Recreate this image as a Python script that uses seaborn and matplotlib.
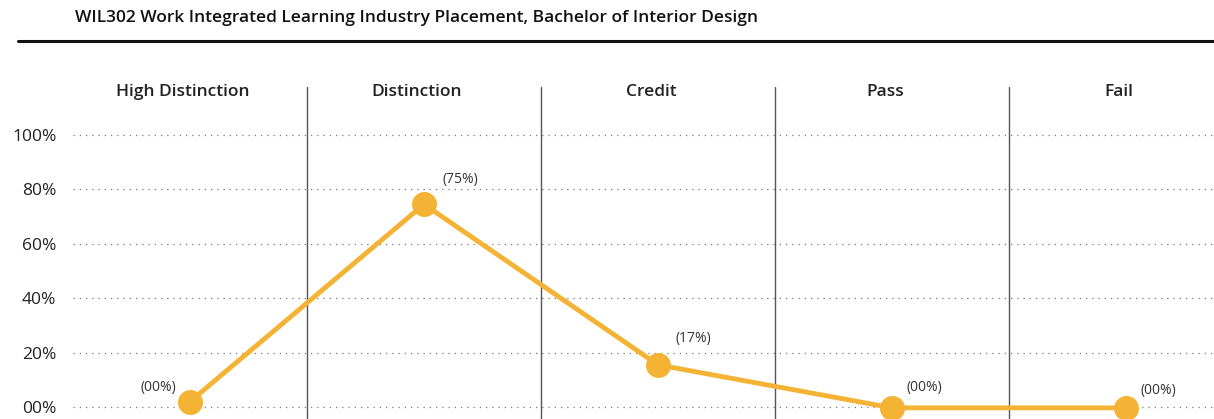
import numpy as np
import pandas as pd
import matplotlib
matplotlib.use("Agg")
import matplotlib.pyplot as plt
import seaborn as sns

# data
grades = ["High Distinction", "Distinction", "Credit", "Pass", "Fail"]
share = [2, 74.5, 15.5, -0.3, -0.3]
point_labels = ["(00%)", "(75%)", "(17%)", "(00%)", "(00%)"]
yticks = [0, 20, 40, 60, 80, 100]
ytick_labels = ["00%", "20%", "40%", "60%", "80%", "100%"]

title = "WIL302 Work Integrated Learning Industry Placement, Bachelor of Interior Design"
line_color = "#F5B335"

sns.set_theme(style="white")
plt.rcParams["font.family"] = ["Open Sans", "DejaVu Sans"]

df = pd.DataFrame({"pos": np.arange(len(grades)), "share": share})

fig = plt.figure(figsize=(12.14, 4.19), dpi=100)
# axes: x 73..1214 px, y 87..419 px
ax = fig.add_axes([73 / 1214, 0, (1214 - 73) / 1214, (419 - 87) / 419])

sns.lineplot(data=df, x="pos", y="share", ax=ax, color=line_color, linewidth=3.5,
             marker="o", markersize=18, markeredgewidth=0, zorder=3)

ax.set_xlim(-0.5, 4.376)
ax.set_ylim(-4.4, 117.6)
ax.set_yticks(yticks)
ax.set_yticklabels(ytick_labels, fontsize=12.5, color="#222222")
ax.set_xticks([])
ax.set_xlabel("")
ax.set_ylabel("")
ax.tick_params(axis="y", length=0, pad=12)
for s in ax.spines.values():
    s.set_visible(False)

for y in yticks:
    ax.axhline(y, color="#777777", linestyle=(0, (1, 4)), linewidth=0.9, zorder=1)
for i in range(len(grades) - 1):
    ax.axvline(i + 0.5, color="#555555", linewidth=1, zorder=2)

for i, g in enumerate(grades):
    ax.text(i - 0.03, 115.8, g, ha="center", va="center", fontsize=12.5,
            fontweight="semibold", color="#222222")

offsets = [(-14, 5), (0.155, 9), (0.15, 9.5), (0.14, 7.4), (0.14, 6.3)]
for i, (lab, (dx, dy)) in enumerate(zip(point_labels, offsets)):
    if i == 0:
        ax.text(i - 0.06, share[i] + dy, lab, ha="right", va="center", fontsize=10, color="#333333")
    else:
        ax.text(i + dx, share[i] + dy, lab, ha="center", va="center", fontsize=10, color="#333333")

fig.text(75 / 1214, 1 - 18 / 419, title, ha="left", va="center", fontsize=12.5,
         fontweight="semibold", color="#111111")
fig.add_artist(plt.Line2D([18 / 1214, 1], [1 - 41 / 419] * 2, color="#111111", linewidth=2.2,
                          transform=fig.transFigure))

fig.savefig("out.png", dpi=100)
